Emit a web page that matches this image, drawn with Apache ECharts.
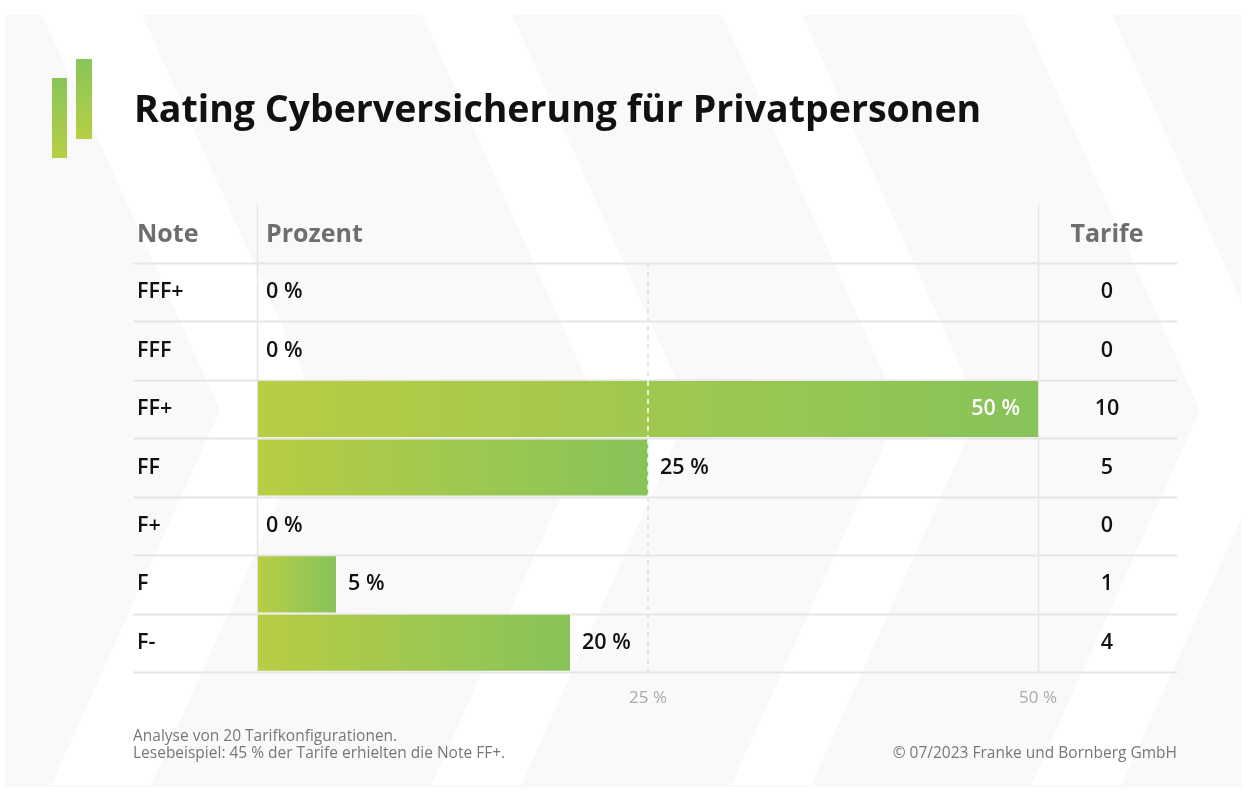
<!DOCTYPE html>
<html>
<head>
<meta charset="utf-8">
<script src="https://cdn.jsdelivr.net/npm/echarts@6/dist/echarts.min.js"></script>
<style>
  html, body { margin: 0; padding: 0; background: #ffffff; }
  #chart { width: 1247px; height: 790px; }
</style>
</head>
<body>
<div id="chart"></div>
<script>
// ---- data ----
const categories = ['FFF+', 'FFF', 'FF+', 'FF', 'F+', 'F', 'F-'];
const percent = [0, 0, 50, 25, 0, 5, 20];
const tarife = [0, 0, 10, 5, 0, 1, 4];
const xTicks = [0, 25, 50];
const titleText = 'Rating Cyberversicherung für Privatpersonen';
const headers = ['Note', 'Prozent', 'Tarife'];
const footLeft = ['Analyse von 20 Tarifkonfigurationen.', 'Lesebeispiel: 45 % der Tarife erhielten die Note FF+.'];
const footRight = '© 07/2023 Franke und Bornberg GmbH';

const FONT = 'Open Sans';
const chart = echarts.init(document.getElementById('chart'), null, { renderer: 'canvas' });

const barGradient = new echarts.graphic.LinearGradient(0, 0, 1, 0, [
  { offset: 0, color: '#b8cd44' },
  { offset: 1, color: '#88c35a' }
]);

const xMax = xTicks[xTicks.length - 1];
const barData = percent.map(function (v) {
  const item = { value: v };
  if (v >= xMax) {
    item.label = { position: 'insideRight', color: '#ffffff', distance: 18 };
  } else if (v === 0) {
    item.label = { distance: 8 };
  }
  return item;
});

// background chevrons (decoration)
function chevron(ax, w) {
  const s = 0.45, ay = 410, top = 15, bot = 785;
  const tx = ax - s * (ay - top), bx = ax - s * (bot - ay);
  return {
    type: 'polygon', z: -1, silent: true,
    shape: { points: [[tx, top], [tx + w, top], [ax + w, ay], [bx + w, bot], [bx, bot], [ax, ay]] },
    style: { fill: '#ffffff' }
  };
}

const bgGraphics = [
  { type: 'rect', z: -2, silent: true, shape: { x: 5, y: 15, width: 1237, height: 772 }, style: { fill: '#f9f9f9' } },
  chevron(220, 100), chevron(600, 90), chevron(900, 80), chevron(1200, 90)
];

const logoFill = function () {
  return new echarts.graphic.LinearGradient(0, 0, 0, 1, [{ offset: 0, color: '#89c55a' }, { offset: 1, color: '#b6cf44' }]);
};
const logo = [
  { type: 'rect', shape: { x: 52, y: 78, width: 15, height: 80 }, style: { fill: logoFill() } },
  { type: 'rect', shape: { x: 76, y: 59, width: 16, height: 80 }, style: { fill: logoFill() } }
];

const texts = [
  { type: 'text', x: 134, y: 111, style: { text: titleText, font: 'bold 37.5px "' + FONT + '"', fill: '#111111', verticalAlign: 'middle' } },
  { type: 'text', x: 137, y: 235, style: { text: headers[0], font: 'bold 25px "' + FONT + '"', fill: '#6e6e6e', verticalAlign: 'middle' } },
  { type: 'text', x: 266, y: 235, style: { text: headers[1], font: 'bold 25px "' + FONT + '"', fill: '#6e6e6e', verticalAlign: 'middle' } },
  { type: 'text', x: 1107, y: 235, style: { text: headers[2], font: 'bold 25px "' + FONT + '"', fill: '#6e6e6e', align: 'center', verticalAlign: 'middle' } },
  { type: 'text', x: 133, y: 737, style: { text: footLeft[0], font: '15.5px "' + FONT + '"', fill: '#777777', verticalAlign: 'middle' } },
  { type: 'text', x: 133, y: 754, style: { text: footLeft[1], font: '15.5px "' + FONT + '"', fill: '#777777', verticalAlign: 'middle' } },
  { type: 'text', x: 1177, y: 754, style: { text: footRight, font: '15.5px "' + FONT + '"', fill: '#777777', align: 'right', verticalAlign: 'middle' } }
];

const option = {
  backgroundColor: 'transparent',
  animation: false,
  grid: { left: 258, right: 209, top: 263, bottom: 118 },
  xAxis: {
    type: 'value', min: xTicks[0], max: xMax, interval: xTicks[1] - xTicks[0],
    axisLine: { show: false }, axisTick: { show: false },
    splitLine: { show: true, lineStyle: { color: ['transparent', '#dedede', 'transparent'], type: [5, 4], width: 1.5 } },
    axisLabel: {
      margin: 18, color: '#aaaaaa', fontSize: 17, fontFamily: FONT,
      formatter: function (v) { return v === xTicks[0] ? '' : v + ' %'; }
    }
  },
  yAxis: [
    {
      type: 'category', data: categories, inverse: true,
      axisLine: { show: false }, axisTick: { show: false }, splitLine: { show: false },
      axisLabel: { align: 'left', margin: 121, fontSize: 21.5, fontWeight: 600, color: '#111111', fontFamily: FONT }
    },
    {
      type: 'category', data: categories, inverse: true, position: 'right',
      axisLine: { show: false }, axisTick: { show: false }, splitLine: { show: false },
      axisLabel: {
        align: 'center', margin: 69, fontSize: 21.5, fontWeight: 600, color: '#111111', fontFamily: FONT,
        formatter: function (v, i) { return String(tarife[i]); }
      }
    }
  ],
  series: [
    {
      type: 'bar', data: barData, yAxisIndex: 0, barCategoryGap: '4%',
      itemStyle: { color: barGradient },
      label: {
        show: true, position: 'right', distance: 12, color: '#111111',
        fontSize: 21.5, fontWeight: 600, fontFamily: FONT,
        formatter: function (p) { return p.value + ' %'; }
      },
      z: 2
    },
    {
      type: 'custom', yAxisIndex: 0, z: 3, silent: true,
      data: percent.map(function (v, i) { return [v, i]; }),
      renderItem: function (params, api) {
        const mid = xTicks[1];
        if (api.value(0) < mid) return null;
        const c = api.coord([mid, api.value(1)]);
        const h = api.size([0, 1])[1] * 0.96;
        return {
          type: 'line',
          shape: { x1: c[0], y1: c[1] - h / 2, x2: c[0], y2: c[1] + h / 2 },
          style: { stroke: '#ffffff', lineWidth: 1.5, lineDash: [5, 4] }
        };
      }
    }
  ],
  graphic: bgGraphics.concat(logo, texts)
};

chart.setOption(option);

// table rules derived from the axes
const n = categories.length;
const c0 = chart.convertToPixel({ yAxisIndex: 0 }, categories[0]);
const c1 = chart.convertToPixel({ yAxisIndex: 0 }, categories[n - 1]);
const band = (c1 - c0) / (n - 1);
const rules = [];
for (let k = 0; k <= n; k++) {
  const y = Math.round(c0 - band / 2 + k * band) + 0.5;
  rules.push({ type: 'line', z: 1, silent: true, shape: { x1: 133, y1: y, x2: 1177, y2: y }, style: { stroke: '#e6e6e6', lineWidth: 2 } });
}
const bottomY = c0 - band / 2 + n * band;
[xTicks[0], xMax].forEach(function (v, j) {
  const x = Math.round(chart.convertToPixel({ xAxisIndex: 0 }, v)) - (j === 0 ? 1 : 0) + 0.5;
  rules.push({ type: 'line', z: 1, silent: true, shape: { x1: x, y1: 205, x2: x, y2: bottomY }, style: { stroke: '#e6e6e6', lineWidth: 1.5 } });
});
chart.setOption({ graphic: bgGraphics.concat(logo, texts, rules) }, { replaceMerge: ['graphic'] });
</script>
</body>
</html>
